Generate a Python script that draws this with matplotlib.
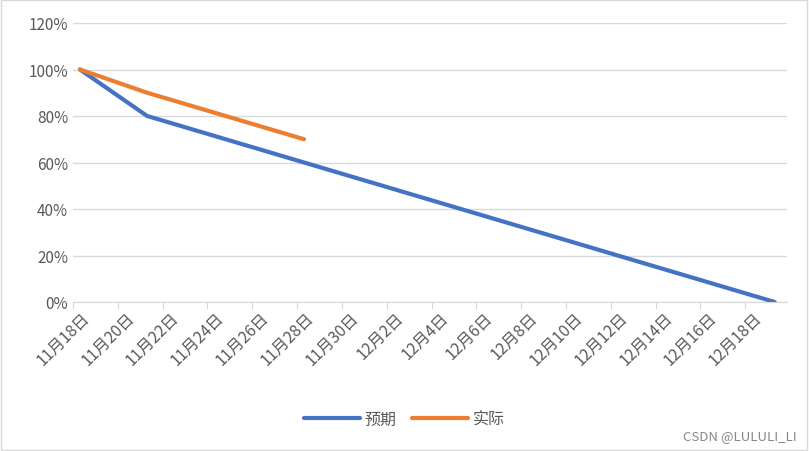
import matplotlib
matplotlib.use("Agg")
import matplotlib.pyplot as plt
import datetime as dt

plt.rcParams['font.family'] = ['Noto Sans CJK SC', 'DejaVu Sans']

start = dt.date(2021, 11, 18)
plan_dates = ["11-18", "11-21", "12-19"]
plan_vals = [1.00, 0.80, 0.00]
act_dates = ["11-18", "11-21", "11-28"]
act_vals = [1.00, 0.90, 0.70]
yticks = [0, 0.2, 0.4, 0.6, 0.8, 1.0, 1.2]

def day(s):
    m, d = map(int, s.split("-"))
    return (dt.date(2021, m, d) - start).days

fig = plt.figure(figsize=(8.09, 4.52), dpi=100)
ax = fig.add_axes([73/809, 1-303/452, 714/809, 279/452])
ax.plot([day(s) for s in plan_dates], plan_vals, color='#4472C4', lw=3, label='预期', solid_capstyle='round')
ax.plot([day(s) for s in act_dates], act_vals, color='#ED7D31', lw=3, label='实际', solid_capstyle='round')
ax.set_xlim(-0.31, 31.55)
ax.set_ylim(0, 1.2)
ax.set_yticks(yticks)
ax.set_yticklabels([f"{int(round(v*100))}%" for v in yticks], color='#595959', fontsize=11)
ticks = list(range(0, 32, 2))
ax.set_xticks([t - 0.31 for t in ticks], minor=False)
ax.set_xticklabels([])
for t in ticks:
    d = start + dt.timedelta(days=t)
    ax.text(t + 0.05, -0.03, f"{d.month}月{d.day}日", rotation=45, ha='right', va='top',
            fontsize=11.5, color='#595959', rotation_mode='anchor', transform=ax.transData)
ax.tick_params(axis='x', length=5, color='#D9D9D9', direction='out')
ax.tick_params(axis='y', length=0)
ax.grid(axis='y', color='#D9D9D9', lw=1)
ax.set_axisbelow(True)
for s in ['top', 'right', 'left']:
    ax.spines[s].set_visible(False)
ax.spines['bottom'].set_color('#D9D9D9')
fig.legend(loc='center', bbox_to_anchor=(0.5, 1-420/452), ncol=2, frameon=False,
           fontsize=11.5, labelcolor='#595959', handlelength=3.5, columnspacing=1.0, handletextpad=0.3)
fig.text(0.985, 1-437/452, "CSDN @LULULI_LI", ha='right', va='center', fontsize=9.5, color='#888888')
fig.patches.append(plt.Rectangle((0.001, 0.002), 0.997, 0.996, transform=fig.transFigure,
                                 fill=False, edgecolor='#D9D9D9', lw=1))
fig.savefig("out.png", dpi=100)
